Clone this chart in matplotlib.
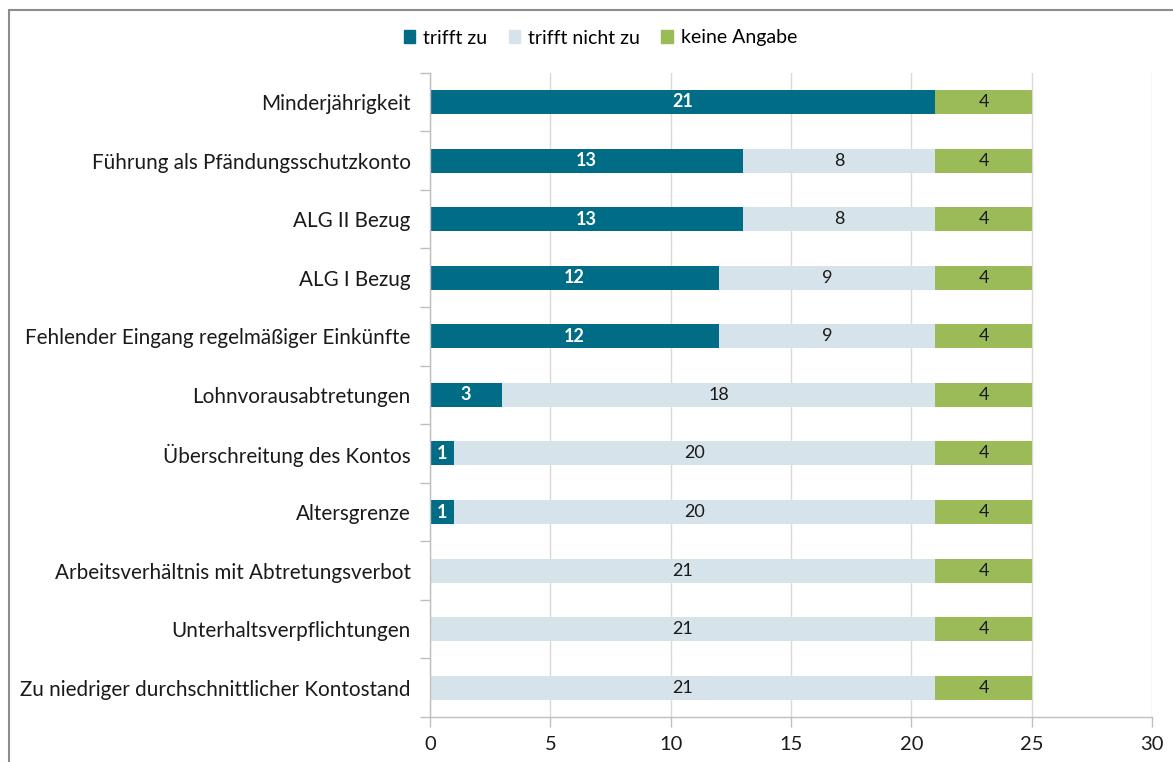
import matplotlib.pyplot as plt
import matplotlib.patches as mpatches
import numpy as np

# Categories (top to bottom) and counts per answer
categories = [
    'Minderjährigkeit',
    'Führung als Pfändungsschutzkonto',
    'ALG II Bezug',
    'ALG I Bezug',
    'Fehlender Eingang regelmäßiger Einkünfte',
    'Lohnvorausabtretungen',
    'Überschreitung des Kontos',
    'Altersgrenze',
    'Arbeitsverhältnis mit Abtretungsverbot',
    'Unterhaltsverpflichtungen',
    'Zu niedriger durchschnittlicher Kontostand',
]
trifft_zu = [21, 13, 13, 12, 12, 3, 1, 1, 0, 0, 0]
trifft_nicht_zu = [0, 8, 8, 9, 9, 18, 20, 20, 21, 21, 21]
keine_angabe = [4, 4, 4, 4, 4, 4, 4, 4, 4, 4, 4]

series_names = ['trifft zu', 'trifft nicht zu', 'keine Angabe']
colors = ['#006C85', '#D7E3EA', '#9BBB59']
text_colors = ['white', '#1a1a1a', '#1a1a1a']
weights = ['bold', 'normal', 'normal']

plt.rc('font', family=['Lato', 'DejaVu Sans'], size=14)

fig = plt.figure(figsize=(11.73, 7.62), dpi=100)
ax = fig.add_axes([0.3666, 0.059, 0.6155, 0.8456])

# figure border (only left/top visible in the reference)
fig.patches.append(mpatches.Rectangle((9 / 1173, -0.1), 1.2, 1 - 10 / 762 + 0.1,
                                      transform=fig.transFigure, fill=False,
                                      edgecolor='#8c8c8c', linewidth=1.5))

y = np.arange(len(categories))
left = np.zeros(len(categories))
for vals, name, col, tcol, w in zip([trifft_zu, trifft_nicht_zu, keine_angabe],
                                    series_names, colors, text_colors, weights):
    vals = np.array(vals)
    ax.barh(y, vals, left=left, height=0.41, color=col, label=name, zorder=2)
    for yi, v, l in zip(y, vals, left):
        if v > 0:
            ax.text(l + v / 2, yi, str(v), ha='center', va='center',
                    color=tcol, fontweight=w, fontsize=13, zorder=3)
    left = left + vals

ax.set_xlim(0, 30)
ax.set_ylim(len(categories) - 0.5, -0.5)
ax.set_xticks(range(0, 31, 5))
ax.set_yticks(y)
ax.set_yticklabels(categories)
ax.set_yticks(np.arange(-0.5, len(categories)), minor=True)
ax.tick_params(axis='y', which='major', length=0, pad=14, labelsize=14.9, colors='#1a1a1a')
ax.tick_params(axis='y', which='minor', length=7, color='#bfbfbf', width=1)
ax.tick_params(axis='x', which='major', length=7, color='#bfbfbf', width=1,
               labelsize=14.5, colors='#1a1a1a', pad=7)
ax.tick_params(axis='x', colors='#bfbfbf', labelcolor='#1a1a1a')

ax.grid(axis='x', color='#d9d9d9', linewidth=1, zorder=0)
ax.set_axisbelow(True)
for s in ['top', 'right']:
    ax.spines[s].set_visible(False)
for s in ['left', 'bottom']:
    ax.spines[s].set_color('#bfbfbf')
    ax.spines[s].set_linewidth(1)

handles = [mpatches.Patch(color=c) for c in colors]
fig.legend(handles, series_names, loc='center', bbox_to_anchor=(0.512, 1 - 38 / 762),
           ncol=3, frameon=False, fontsize=14, handlelength=0.6, handleheight=0.6,
           handletextpad=0.4, columnspacing=1.1)

fig.savefig('out.png', dpi=100)
